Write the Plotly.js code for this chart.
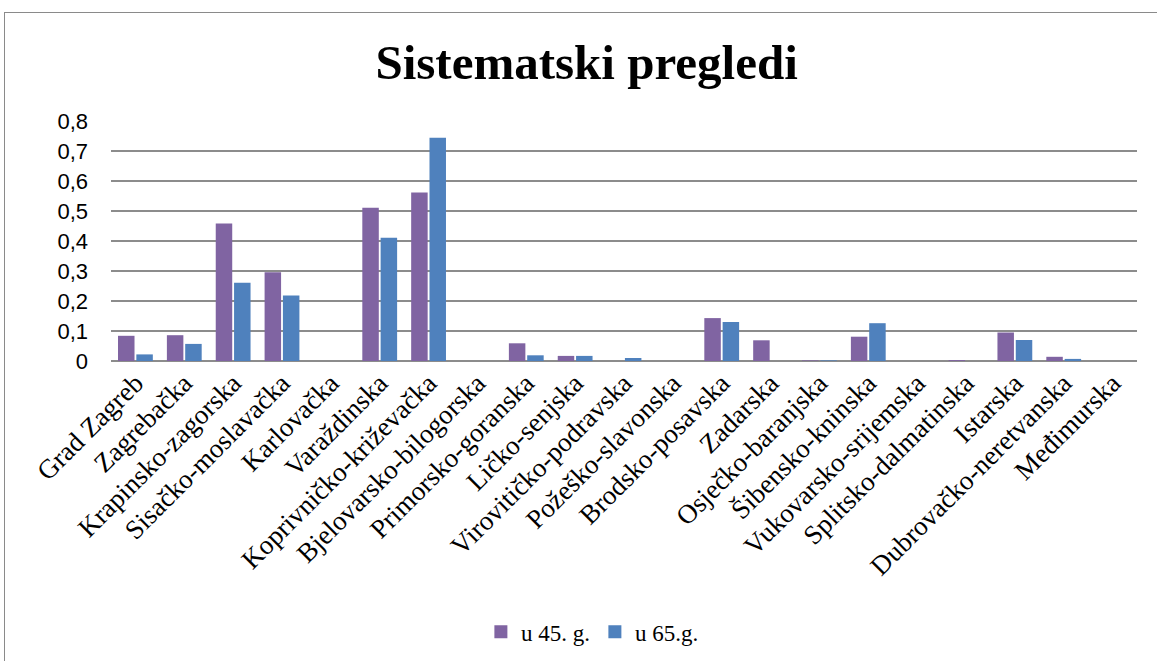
<!DOCTYPE html>
<html>
<head>
<meta charset="utf-8">
<script src="https://cdn.plot.ly/plotly-3.0.1.min.js"></script>
<style>
html,body{margin:0;padding:0;overflow:hidden;background:#fff;}
#frame{position:absolute;left:4px;top:12px;width:1200px;height:700px;border:1.5px solid #8a8a8a;box-sizing:border-box;}
#chart{position:absolute;left:0;top:0;width:1157px;height:661px;}
</style>
</head>
<body>
<div id="frame"></div>
<div id="chart"></div>
<script>
var categories = ["Grad Zagreb","Zagrebačka","Krapinsko-zagorska","Sisačko-moslavačka","Karlovačka","Varaždinska","Koprivničko-križevačka","Bjelovarsko-bilogorska","Primorsko-goranska","Ličko-senjska","Virovitičko-podravska","Požeško-slavonska","Brodsko-posavska","Zadarska","Osječko-baranjska","Šibensko-kninska","Vukovarsko-srijemska","Splitsko-dalmatinska","Istarska","Dubrovačko-neretvanska","Međimurska"];
var u45 = [0.084,0.086,0.458,0.296,0,0.511,0.562,0,0.059,0.017,0,0,0.143,0.069,0.002,0.081,0,0.003,0.095,0.014,0];
var u65 = [0.022,0.057,0.261,0.218,0,0.411,0.744,0,0.019,0.017,0.010,0,0.130,0,0.002,0.126,0,0,0.070,0.007,0];
var seriesNames = ["u 45. g.","u 65.g."];
var seriesColors = ["#8064A2","#4F81BD"];

var traces = [
  {type:"bar", x:categories, y:u45, name:seriesNames[0], showlegend:false, marker:{color:seriesColors[0], line:{width:0}}},
  {type:"bar", x:categories, y:u65, name:seriesNames[1], showlegend:false, marker:{color:seriesColors[1], line:{width:0}}},
  {type:"scatter", mode:"markers", x:[null], y:[null], name:seriesNames[0], marker:{symbol:"square", size:13, color:seriesColors[0]}},
  {type:"scatter", mode:"markers", x:[null], y:[null], name:seriesNames[1], marker:{symbol:"square", size:13, color:seriesColors[1]}}
];

var layout = {
  width:1157, height:661,
  paper_bgcolor:"rgba(0,0,0,0)", plot_bgcolor:"rgba(0,0,0,0)",
  margin:{l:111, r:20, t:121, b:300},
  separators:",.",
  title:{text:"<b>Sistematski pregledi</b>", font:{family:"Liberation Serif", size:49, color:"#000"}, x:0.507, xref:"container", xanchor:"center", y:0.906, yref:"container", yanchor:"middle"},
  barmode:"group", bargap:0.25, bargroupgap:0.1,
  xaxis:{tickangle:-45, tickfont:{family:"Liberation Serif", size:27, color:"#000"}, showgrid:false, showline:false, ticks:"", automargin:false},
  yaxis:{range:[0,0.8], dtick:0.1, tick0:0, showgrid:true, gridcolor:"#8c8c8c", gridwidth:1.5, zeroline:true, zerolinecolor:"#8c8c8c", zerolinewidth:1.5, showline:false, ticks:"", tickfont:{family:"Liberation Sans", size:22, color:"#000"}, automargin:false, ticklabelstandoff:22},
  showlegend:true,
  legend:{orientation:"h", x:0.512, xref:"container", xanchor:"center", y:0.044, yref:"container", yanchor:"middle", font:{family:"Liberation Serif", size:23, color:"#000"}, itemwidth:30, tracegroupgap:0}
};

Plotly.newPlot("chart", traces, layout, {displayModeBar:false, staticPlot:true});
</script>
</body>
</html>
